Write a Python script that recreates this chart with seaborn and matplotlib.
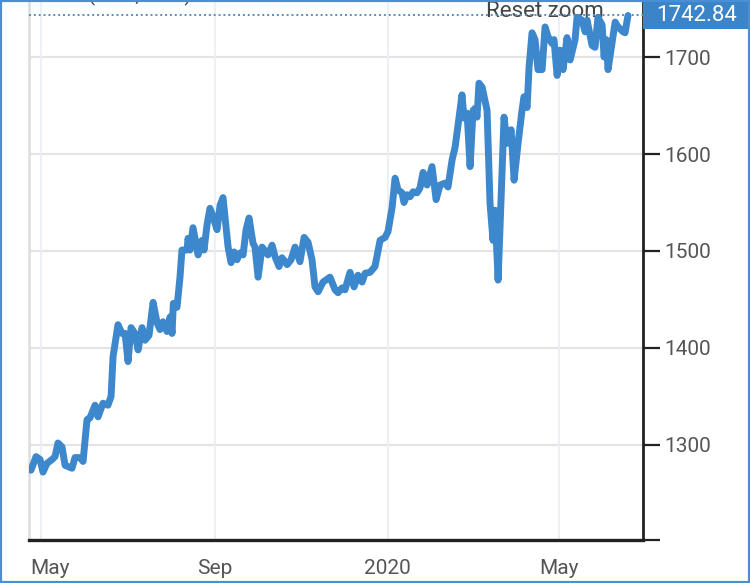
import pandas as pd
import numpy as np
import matplotlib
matplotlib.use("Agg")
import matplotlib.pyplot as plt
import matplotlib.transforms as mtransforms
from matplotlib.patches import Rectangle
import seaborn as sns

# days after 2019-05-01
day_offsets = [
    -7.1, -3.5, -0.7, 1.4, 4.2, 7.8, 9.9, 12.0, 14.8, 17.0, 21.9, 24.0, 27.6, 29.7,
    32.5, 34.6, 38.2, 40.3, 43.8, 47.3, 49.5, 50.9, 54.4, 57.2, 59.4, 61.5, 63.6,
    66.4, 68.6, 71.4, 73.5, 76.3, 79.2, 82.0, 84.1, 86.2, 89.0, 91.2, 92.6, 93.5,
    96.1, 98.2, 99.6, 103.2, 103.9, 105.3, 107.4, 111.0, 113.8, 115.2, 117.3, 119.4,
    121.6, 124.4, 126.5, 128.6, 130.0, 132.2, 134.3, 136.4, 138.5, 140.6, 142.8,
    144.9, 147.0, 149.8, 151.2, 153.4, 156.2, 160.4, 163.3, 165.4, 168.2, 170.3,
    173.9, 176.7, 179.5, 183.0, 185.9, 188.7, 191.5, 193.6, 195.8, 199.3, 204.2,
    207.8, 209.9, 212.7, 214.8, 218.4, 221.2, 224.0, 226.9, 229.0, 232.5, 236.0,
    239.6, 243.1, 245.2, 248.1, 250.2, 252.3, 255.1, 256.5, 258.7, 260.8, 262.9,
    265.7, 267.8, 270.0, 272.8, 276.3, 279.2, 282.0, 285.5, 287.6, 290.5, 292.6,
    294.0, 297.5, 298.9, 301.1, 303.2, 305.3, 306.7, 308.1, 309.5, 311.7, 315.2,
    317.3, 319.4, 320.8, 323.0, 327.2, 329.3, 332.2, 334.3, 337.1, 339.9, 341.3,
    343.5, 344.9, 347.0, 349.1, 351.2, 354.1, 356.2, 358.3, 361.1, 362.5, 364.7,
    366.8, 368.9, 371.7, 373.9, 377.4, 378.8, 382.3, 384.5, 385.9, 389.4, 391.5,
    393.6, 396.5, 397.9, 399.3, 400.7, 405.7, 407.8, 411.3, 412.7, 414.8,
]
prices = [
    1274, 1288, 1285, 1272, 1281, 1285, 1288, 1302, 1298, 1279, 1276, 1287, 1287, 1283,
    1326, 1328, 1341, 1329, 1343, 1341, 1350, 1391, 1424, 1415, 1415, 1386, 1421,
    1415, 1398, 1421, 1408, 1413, 1447, 1426, 1419, 1427, 1417, 1432, 1415, 1446,
    1442, 1473, 1501, 1501, 1513, 1501, 1524, 1496, 1511, 1501, 1527, 1544,
    1535, 1522, 1547, 1555, 1535, 1504, 1488, 1499, 1491, 1498, 1496,
    1522, 1534, 1508, 1504, 1473, 1504, 1496, 1506, 1494, 1484, 1493,
    1486, 1491, 1504, 1489, 1514, 1509, 1491, 1463, 1458, 1468, 1473,
    1460, 1457, 1462, 1460, 1478, 1463, 1475, 1468, 1477, 1478, 1484,
    1511, 1514, 1520, 1545, 1575, 1563, 1560, 1550, 1558, 1556, 1561,
    1560, 1565, 1581, 1568, 1587, 1553, 1568, 1570, 1566, 1594, 1607,
    1622, 1661, 1637, 1642, 1587, 1645, 1647, 1638, 1673, 1669, 1645,
    1549, 1511, 1542, 1470, 1638, 1611, 1625, 1573, 1611, 1645, 1659,
    1648, 1690, 1725, 1718, 1687, 1687, 1731, 1721, 1714, 1718, 1681,
    1707, 1687, 1720, 1697, 1718, 1741, 1738, 1726, 1738, 1712, 1710,
    1741, 1733, 1700, 1718, 1687, 1736, 1731, 1726, 1725, 1742.84,
]
last_price = 1742.84

y_ticks = [1300, 1400, 1500, 1600, 1700]
x_tick_dates = ["2019-05-01", "2019-09-01", "2020-01-01", "2020-05-01"]
x_tick_labels = ["May", "Sep", "2020", "May"]

base = pd.Timestamp("2019-05-01")
df = pd.DataFrame({
    "date": [base + pd.Timedelta(days=d) for d in day_offsets],
    "price": prices,
})

sns.set_style("white")
plt.rcParams["font.family"] = ["Roboto", "DejaVu Sans"]

W, H = 750, 583
fig = plt.figure(figsize=(W / 100, H / 100), dpi=100)
ax = fig.add_axes([29 / W, 43 / H, 614 / W, 540 / H])

line_color = "#3d88cc"
sns.lineplot(data=df, x="date", y="price", ax=ax, color=line_color,
             linewidth=5, zorder=5, solid_joinstyle="round", solid_capstyle="round")

ax.set_xlim(base + pd.Timedelta(days=-8.5), base + pd.Timedelta(days=425.4))
ax.set_ylim(1202, 1758.8)

# y axis on the right
ax.yaxis.tick_right()
ax.set_yticks(y_ticks + [1202])
ax.set_yticklabels([str(t) for t in y_ticks] + [""])
ax.tick_params(axis="y", direction="out", length=12, width=1.6, color="#222222",
               labelsize=15, labelcolor="#555555", pad=3)

ax.set_xticks(pd.to_datetime(x_tick_dates))
ax.set_xticklabels(x_tick_labels)
ax.tick_params(axis="x", length=0, labelsize=15, labelcolor="#555555", pad=14)
# first label is pushed to the right so it stays inside the plot
first = ax.get_xticklabels()[0]
first.set_horizontalalignment("left")
first.set_transform(first.get_transform() + mtransforms.ScaledTranslation(-11 / 100, 0, fig.dpi_scale_trans))

ax.set_xlabel("")
ax.set_ylabel("")

# grid
for t in y_ticks:
    ax.axhline(t, color="#e4e4e4", linewidth=1.6, zorder=1)
for d in pd.to_datetime(x_tick_dates):
    ax.axvline(d, color="#eceff4", linewidth=1.3, zorder=1)

# spines
ax.spines["top"].set_visible(False)
ax.spines["right"].set_color("#222222")
ax.spines["right"].set_linewidth(2)
ax.spines["bottom"].set_color("#222222")
ax.spines["bottom"].set_linewidth(2.4)
ax.spines["left"].set_color("#dddddd")
ax.spines["left"].set_linewidth(1.8)

# last value line and label box on the right axis
ax.axhline(last_price, color="#5b8fb5", linewidth=1.4, linestyle=(0, (1, 1.5)), zorder=3)
y_px = ax.transData.transform((0, last_price))[1]
box_h = 27
fig.patches.append(Rectangle((643 / W, (y_px - box_h / 2) / H), 107 / W, box_h / H,
                             transform=fig.transFigure, fc="#3b84c8", ec="none", zorder=10))
fig.patches.append(Rectangle((643 / W, (y_px + box_h / 2) / H), 107 / W, 1 - (y_px + box_h / 2) / H,
                             transform=fig.transFigure, fc="#9cc2e6", ec="none", zorder=10))
fig.text(697 / W, y_px / H, f"{last_price:.2f}", ha="center", va="center",
         color="white", fontsize=16, zorder=11)

ax.text(486 / W, 1 - 17 / H, "Reset zoom", transform=fig.transFigure, fontsize=16,
        color="#444444", va="baseline", zorder=2)
fig.text(88 / W, 1.0 - 1 / H, "(XAU, USD)", fontsize=15, color="#444444", va="baseline")

# outer frame
fig.patches.append(Rectangle((0, 0), 1, 1, transform=fig.transFigure, fill=False,
                             ec="#4a8fd6", linewidth=3, zorder=20))

fig.savefig("out.png", dpi=100)
